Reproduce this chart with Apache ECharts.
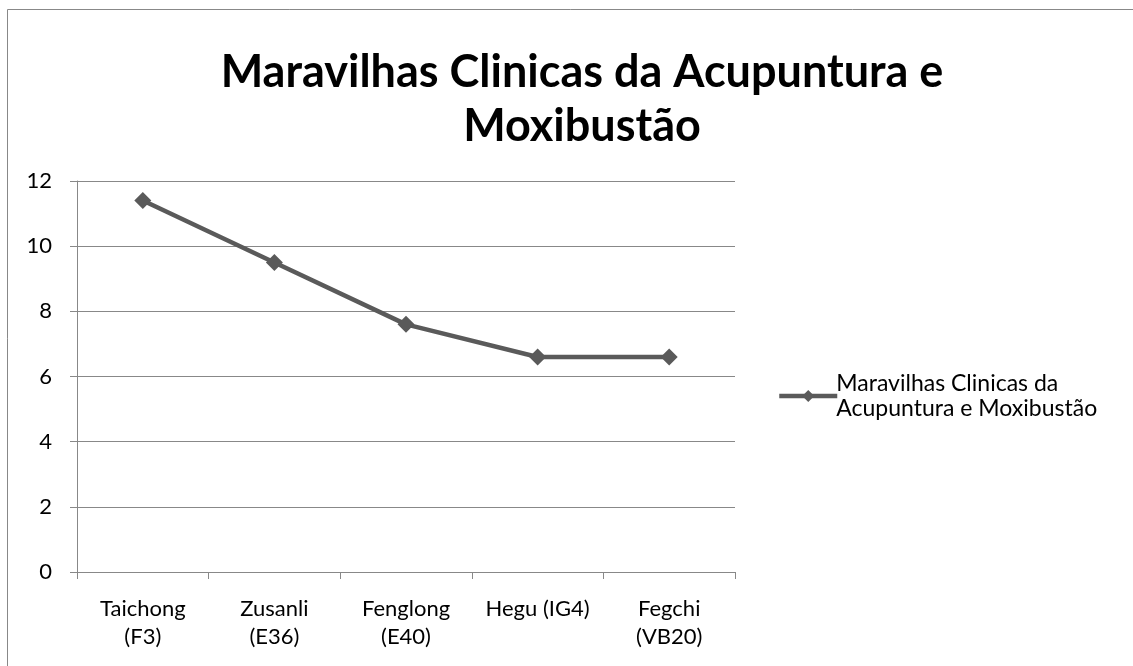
<!DOCTYPE html>
<html>
<head>
<meta charset="utf-8">
<script src="https://cdn.jsdelivr.net/npm/echarts@6/dist/echarts.min.js"></script>
<style>
html, body { margin:0; padding:0; background:#fff; }
#chart { width:1133px; height:666px; }
</style>
</head>
<body>
<div id="chart"></div>
<script>
var categories = ['Taichong\n(F3)', 'Zusanli\n(E36)', 'Fenglong\n(E40)', 'Hegu (IG4)', 'Fegchi\n(VB20)'];
var values = [11.4, 9.5, 7.6, 6.6, 6.6];
var seriesName = 'Maravilhas Clinicas da Acupuntura e Moxibustão';
var yTicks = [0, 12, 2];  // min, max, interval

var chart = echarts.init(document.getElementById('chart'));
var FONT = 'Lato';
var lineColor = '#5a5a5a';

var option = {
	animation: false,
	backgroundColor: '#fff',
	graphic: [{
		type: 'rect',
		shape: { x: 7.5, y: 9.5, width: 1140, height: 700 },
		style: { fill: 'none', stroke: '#888', lineWidth: 1 },
		silent: true
	}],
	title: {
		text: 'Maravilhas Clinicas da Acupuntura e\nMoxibustão',
		left: 577,
		top: 40,
		textAlign: 'center',
		textStyle: { fontFamily: FONT, fontWeight: 'bold', fontSize: 45, lineHeight: 54, color: '#000' }
	},
	legend: {
		left: 772,
		top: 354,
		orient: 'vertical',
		itemWidth: 58,
		itemHeight: 15,
		itemGap: 0,
		lineStyle: { width: 4.5 },
		formatter: function (n) { return 'Maravilhas Clinicas da\nAcupuntura e Moxibustão'; },
		textStyle: { fontFamily: FONT, fontSize: 23, lineHeight: 25, color: '#000', padding: [24, 0, 0, -6] },
		data: [seriesName]
	},
	grid: { left: 77, right: 398, top: 181, bottom: 94, containLabel: false },
	xAxis: {
		type: 'category',
		data: categories,
		boundaryGap: true,
		axisLine: { lineStyle: { color: '#888', width: 1 } },
		axisTick: { show: true, length: 7, lineStyle: { color: '#888' } },
		axisLabel: { interval: 0, margin: 23, fontFamily: FONT, fontSize: 22, lineHeight: 28, color: '#000' }
	},
	yAxis: {
		type: 'value',
		min: yTicks[0],
		max: yTicks[1],
		interval: yTicks[2],
		axisLine: { show: true, lineStyle: { color: '#888', width: 1 } },
		axisTick: { show: true, length: 7, lineStyle: { color: '#888' } },
		splitLine: { show: true, lineStyle: { color: '#888', width: 1 } },
		axisLabel: { margin: 25, fontFamily: FONT, fontSize: 22, color: '#000' }
	},
	series: [{
		name: seriesName,
		type: 'line',
		data: values,
		symbol: 'diamond',
		symbolSize: 17,
		lineStyle: { color: lineColor, width: 4.5 },
		itemStyle: { color: lineColor }
	}]
};
chart.setOption(option);
</script>
</body>
</html>
